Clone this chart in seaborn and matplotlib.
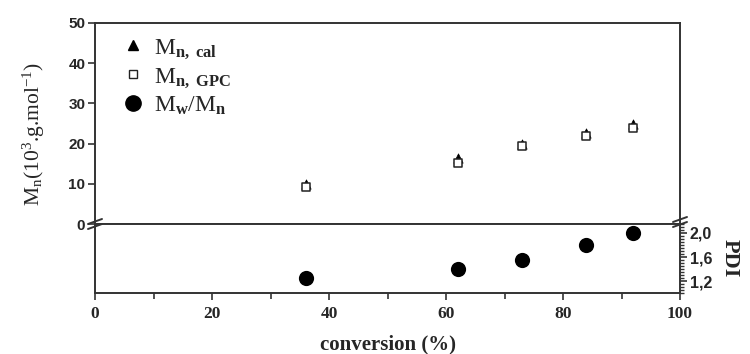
import numpy as np
import pandas as pd
import matplotlib
matplotlib.use('Agg')
import matplotlib.pyplot as plt
import seaborn as sns
from matplotlib.ticker import MultipleLocator, FuncFormatter
from matplotlib.lines import Line2D

# ---- data ----
conversion = [36, 62, 73, 84, 92]
mn_cal = [10.0, 16.5, 20.0, 22.6, 24.8]
mn_gpc = [9.3, 15.2, 19.3, 21.9, 24.0]
pdi = [1.25, 1.40, 1.55, 1.80, 2.00]
x_ticks = [0, 20, 40, 60, 80, 100]
mn_ticks = [0, 10, 20, 30, 40, 50]
pdi_ticks = [1.2, 1.6, 2.0]

df = pd.DataFrame({"conversion": conversion, "mn_cal": mn_cal,
                   "mn_gpc": mn_gpc, "pdi": pdi})

sns.set_style("ticks")
plt.rcParams['font.family'] = ['Liberation Serif', 'DejaVu Serif']
plt.rcParams['mathtext.fontset'] = 'custom'
plt.rcParams['mathtext.rm'] = 'Liberation Serif'
plt.rcParams['mathtext.it'] = 'Liberation Serif'
plt.rcParams['mathtext.bf'] = 'Liberation Serif:bold'

spc = '#333333'
fig = plt.figure(figsize=(7.5, 3.54), dpi=100)
L, W = 95 / 750, 585 / 750
ax1 = fig.add_axes([L, 1 - 224 / 354, W, 201 / 354])
ax2 = fig.add_axes([L, 1 - 293 / 354, W, 69 / 354])

sns.scatterplot(data=df, x="conversion", y="mn_cal", ax=ax1, marker='^', s=45,
                color='black', edgecolor='black', linewidth=0.5, zorder=3)
sns.scatterplot(data=df, x="conversion", y="mn_gpc", ax=ax1, marker='s', s=40,
                facecolor='white', edgecolor='#222222', linewidth=1.1, zorder=4)
sns.scatterplot(data=df, x="conversion", y="pdi", ax=ax2, marker='o', s=120,
                color='black', edgecolor='black', linewidth=0, zorder=3)

for ax in (ax1, ax2):
    ax.set_xlim(0, 100)
    for sp in ax.spines.values():
        sp.set_visible(True)
        sp.set_color(spc)
        sp.set_linewidth(1.4)
    ax.set_xlabel('')
    ax.set_ylabel('')

# top axes
ax1.set_ylim(0, 50)
ax1.set_yticks(mn_ticks)
ax1.tick_params(axis='x', which='both', bottom=False, labelbottom=False)
ax1.tick_params(axis='y', direction='out', length=5, width=1.2, color=spc,
                labelsize=11, pad=2)
for t in ax1.get_yticklabels():
    t.set_fontfamily('Liberation Sans')
    t.set_fontweight('bold')
ax1.set_ylabel(r'M$_\mathregular{n}$(10$^\mathregular{3}$.g.mol$^\mathregular{-1}$)',
               fontsize=15.5, fontweight='normal')
ax1.yaxis.set_label_coords(-0.082, 0.45)

# bottom axes
ax2.set_ylim(1.0, 2.15)
ax2.yaxis.tick_right()
ax2.yaxis.set_label_position('right')
ax2.set_yticks(pdi_ticks)
ax2.yaxis.set_minor_locator(MultipleLocator(0.05))
ax2.yaxis.set_major_formatter(FuncFormatter(lambda v, p: f'{v:.1f}'.replace('.', ',')))
ax2.tick_params(axis='y', which='major', direction='out', length=5, width=1.2,
                color=spc, labelsize=11.5, pad=2, left=False, right=True)
ax2.tick_params(axis='y', which='minor', direction='out', length=3, width=1.0,
                color=spc, left=False, right=True)
for t in ax2.get_yticklabels():
    t.set_fontfamily('Liberation Sans')
    t.set_fontweight('bold')
ax2.set_ylabel('PDI', fontsize=16, fontweight='bold', rotation=-90, labelpad=20)

ax2.set_xticks(x_ticks)
ax2.xaxis.set_minor_locator(MultipleLocator(10))
ax2.tick_params(axis='x', which='major', direction='out', length=5, width=1.2,
                color=spc, labelsize=12.5, pad=4)
ax2.tick_params(axis='x', which='minor', direction='out', length=4, width=1.2,
                color=spc)
for t in ax2.get_xticklabels():
    t.set_fontweight('bold')
ax2.set_xlabel('conversion (%)', fontsize=15, fontweight='bold', labelpad=9)

# legend
handles = [
    Line2D([], [], ls='none', marker='^', ms=7, color='black'),
    Line2D([], [], ls='none', marker='s', ms=6, mfc='white', mec='#222222', mew=1.0),
    Line2D([], [], ls='none', marker='o', ms=11, color='black'),
]
labels = [r'M$_\mathbf{n,\ cal}$', r'M$_\mathbf{n,\ GPC}$',
          r'M$_\mathbf{w}$/M$_\mathbf{n}$']
ax1.legend(handles, labels, loc='upper left', bbox_to_anchor=(0.0, 1.035),
           frameon=False, prop={'size': 17, 'weight': 'normal'},
           labelspacing=0.2, handletextpad=0.2, handlelength=1.4)

# axis break marks (figure pixel coordinates)
def brk(xc, yc):
    for dy in (-2.5, 2.5):
        x0, x1 = xc - 7, xc + 7
        y0, y1 = yc + dy + 2.5, yc + dy - 2.5
        fig.add_artist(Line2D([x0 / 750, x1 / 750], [1 - y0 / 354, 1 - y1 / 354],
                              color=spc, lw=1.4, transform=fig.transFigure))

brk(95, 224)
brk(680, 222)

fig.savefig('out.png', dpi=100)
